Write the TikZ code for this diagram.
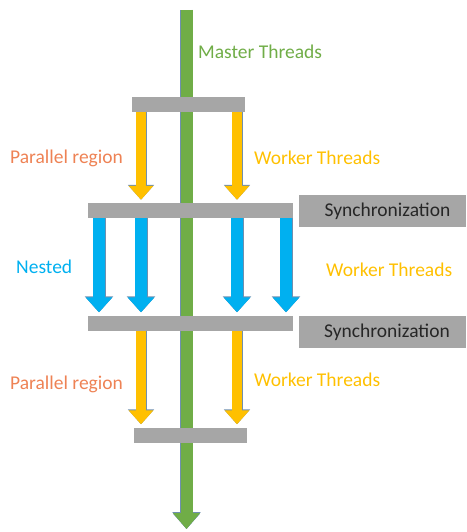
\documentclass[tikz,border=0pt]{standalone}
\usepackage{fontspec}
\setmainfont{Carlito}
\usetikzlibrary{arrows.meta}
\definecolor{masterGreen}{HTML}{70AD47}
\definecolor{workerYellow}{HTML}{FFC000}
\definecolor{nestedBlue}{HTML}{00B0F0}
\definecolor{regionOrange}{HTML}{EE8254}
\definecolor{barGray}{HTML}{A6A6A6}
\definecolor{syncText}{HTML}{262626}
\definecolor{shapeLine}{HTML}{6F8FAF}

\begin{document}
\begin{tikzpicture}[x=1pt,y=-1pt]
\tikzset{bar/.style = {fill=barGray, inner sep=0pt, minimum height=15pt}}
\tikzset{syncbox/.style = {fill=barGray, text=syncText, inner sep=0pt, minimum width=167pt, minimum height=32pt, font=\fontsize{19.5}{21}\selectfont}}
\tikzset{txt/.style = {anchor=west, inner sep=0pt, font=\fontsize{19.5}{21}\selectfont}}
\tikzset{thread/.style = {line width=10pt, shorten >=3pt, -{Triangle[width=24pt,length=14pt]},
  preaction={draw=shapeLine, line width=11pt, -{Triangle[width=25.5pt,length=15pt]}}}}
\useasboundingbox (0,0) rectangle (466,532);
% columns
\coordinate (c1) at (99,0);
\coordinate (c2) at (141,0);
\coordinate (c3) at (237,0);
\coordinate (c4) at (286,0);
% master thread
\coordinate (mtop) at (186.5,10);
\coordinate (mbot) at (186.5,529);
\draw[thread, draw=masterGreen, line width=12pt, shorten >=0pt, -{Triangle[width=26pt,length=16pt]},
  preaction={draw=shapeLine, line width=13pt, -{Triangle[width=27.5pt,length=17pt]}}] (mtop) -- (mbot);
% bars
\node[bar, minimum width=113pt] (bar1) at (188.5,104.5) {};
\node[bar, minimum width=205pt] (bar2) at (190.5,210.5) {};
\node[bar, minimum width=205pt] (bar3) at (190.5,323) {};
\node[bar, minimum width=113pt] (bar4) at (190,435) {};
\node[syncbox] (sync1) at (382.5,211) {\hspace{10pt}Synchronization};
\node[syncbox] (sync2) at (382,332) {\hspace{10pt}Synchronization};
% worker threads
\draw[thread, draw=workerYellow] (bar1.south -| c2) -- (bar2.north -| c2);
\draw[thread, draw=workerYellow] (bar1.south -| c3) -- (bar2.north -| c3);
\foreach \c in {c1,c2,c3,c4}
  \draw[thread, draw=nestedBlue, line width=12pt, -{Triangle[width=26pt,length=15pt]},
    preaction={draw=shapeLine, line width=13pt, -{Triangle[width=27.5pt,length=16pt]}}]
    (bar2.south -| \c) -- (bar3.north -| \c);
\draw[thread, draw=workerYellow] (bar3.south -| c2) -- (bar4.north -| c2);
\draw[thread, draw=workerYellow] (bar3.south -| c3) -- (bar4.north -| c3);
% labels
\node[txt, text=masterGreen] (master) at (198,52) {Master Threads};
\node[txt, text=regionOrange] (par1) at (10,158) {Parallel region};
\node[txt, text=workerYellow] (work1) at (254,158) {Worker Threads};
\node[txt, text=nestedBlue] (nest) at (16,267) {Nested};
\node[txt, text=workerYellow] (work2) at (326,270) {Worker Threads};
\node[txt, text=regionOrange] (par2) at (10,384) {Parallel region};
\node[txt, text=workerYellow] (work3) at (254,380) {Worker Threads};
\end{tikzpicture}
\end{document}
